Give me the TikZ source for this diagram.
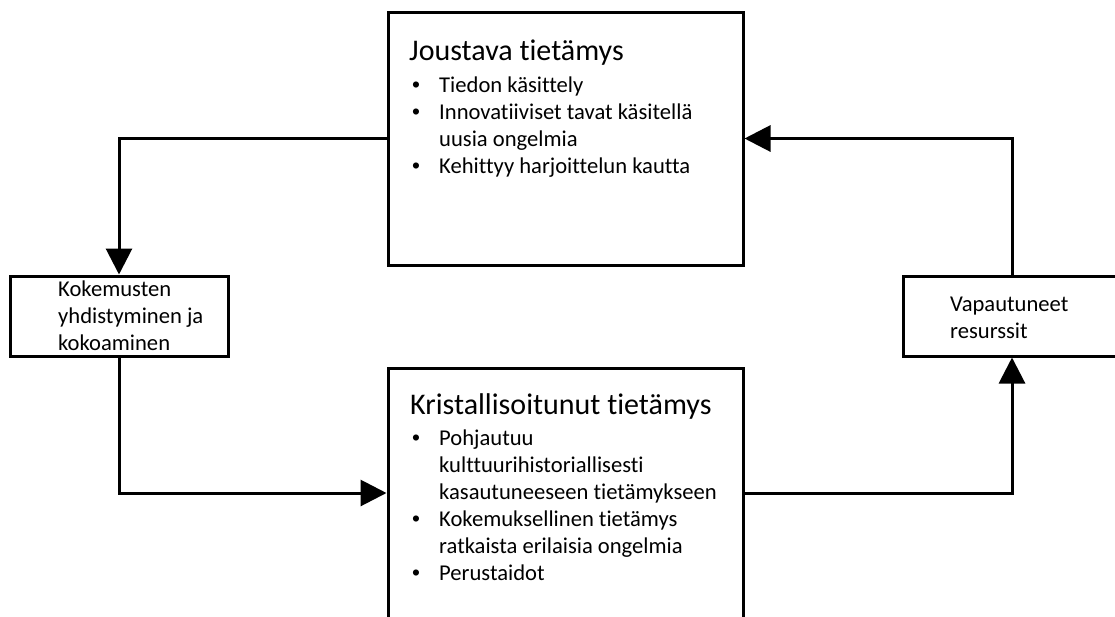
\documentclass[tikz,border=0pt]{standalone}
\usepackage{fontspec}
\setmainfont{Carlito}[Ligatures={NoCommon}]
\newfontfamily\dotfont{Liberation Sans}
\newcommand{\listdot}{{\dotfont\textbullet}}
\usetikzlibrary{arrows.meta}
\begin{document}
\begin{tikzpicture}[x=1pt,y=-1pt,
  frame/.style={draw=black, line width=3pt, fill=white, inner sep=0pt},
  link/.style={draw=black, line width=3pt, -{Triangle[length=26pt,width=26pt]}},
  headline/.style={anchor=base west, inner sep=0pt, font=\fontsize{30}{36}\selectfont},
  body/.style={anchor=base west, inner sep=0pt, font=\fontsize{22.6}{27}\selectfont},
]
% canvas
\fill[white] (0,0) rectangle (1115,616);
\clip (0,0) rectangle (1115,616);

% boxes
\node[frame, minimum width=355pt, minimum height=253pt] (joustava) at (565.5,138.5) {};
\node[frame, minimum width=218pt, minimum height=80pt] (kok) at (119,316) {};
\node[frame, minimum width=355pt, minimum height=250pt] (krist) at (565.5,493) {};
\node[frame, minimum width=218pt, minimum height=80pt] (vap) at (1012,316) {};

% cycle of arrows
\draw[link] (joustava.west) -| (kok.north);
\draw[link] (kok.south) |- (krist.west);
\draw[link] (krist.east) -| (vap.south);
\draw[link] (vap.north) |- (joustava.east);

% texts
\node[headline] (jtitle) at (409,60) {Joustava tietämys};
\node[body] (jlist) at (412,92) {\begin{tabular}[t]{@{}p{27pt}@{}l@{}}
  \listdot & Tiedon käsittely\\
  \listdot & Innovatiiviset tavat käsitellä\\
           & uusia ongelmia\\
  \listdot & Kehittyy harjoittelun kautta
\end{tabular}};

\node[headline] (ktitle) at (410,414) {Kristallisoitunut tietämys};
\node[body] (klist) at (412,445) {\begin{tabular}[t]{@{}p{27pt}@{}l@{}}
  \listdot & Pohjautuu\\
           & kulttuurihistoriallisesti\\
           & kasautuneeseen tietämykseen\\
  \listdot & Kokemuksellinen tietämys\\
           & ratkaista erilaisia ongelmia\\
  \listdot & Perustaidot
\end{tabular}};

\node[body] (koktext) at (58,296) {\begin{tabular}[t]{@{}l@{}}
  Kokemusten\\ yhdistyminen ja\\ kokoaminen
\end{tabular}};

\node[body] (vaptext) at (950,311) {\begin{tabular}[t]{@{}l@{}}
  Vapautuneet\\ resurssit
\end{tabular}};
\end{tikzpicture}
\end{document}
